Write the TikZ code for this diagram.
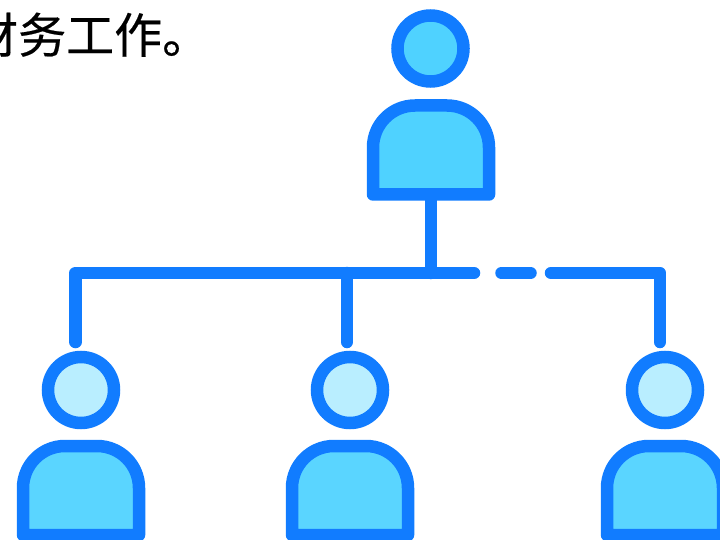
\documentclass[tikz,border=0pt]{standalone}
\usepackage{fontspec}
\newfontfamily\cjk[FakeBold=0.4]{Noto Sans CJK SC}
\definecolor{lineBlue}{HTML}{117CFF}
\definecolor{bossFill}{HTML}{4FD2FF}
\definecolor{staffBody}{HTML}{5AD5FF}
\definecolor{staffHead}{HTML}{B9EEFF}
\tikzset{
	personBody/.pic={
		\draw[line width=12.5pt, line join=round, draw=lineBlue, fill=#1]
			(-58,45) [rounded corners=42pt] -- (-58,-44) -- (58,-44) [sharp corners] -- (58,45) -- cycle;
		\coordinate (-south) at (0,45);
	}
}
\begin{document}
\begin{tikzpicture}[x=1pt, y=-1pt,
	personHead/.style={circle, line width=12.5pt, draw=lineBlue, minimum size=66pt, inner sep=0pt},
	link/.style={line width=12.5pt, draw=lineBlue, line cap=round, line join=round}]
	\useasboundingbox (0,0) rectangle (720,540);
	\clip (0,0) rectangle (720,540);
	\node[anchor=base west, inner sep=0pt, font=\cjk\fontsize{48pt}{48pt}\selectfont] (caption) at (-30,53) {财务工作。};
	% boss
	\node[personHead, fill=bossFill] (bossHead) at (430.5,48.5) {};
	\pic (bossBody) at (431,149.5) {personBody=bossFill};
	% staff
	\node[personHead, fill=staffHead] (leftHead) at (81,390) {};
	\pic (leftBody) at (81,490) {personBody=staffBody};
	\node[personHead, fill=staffHead] (midHead) at (350,390) {};
	\pic (midBody) at (350,490) {personBody=staffBody};
	\node[personHead, fill=staffHead] (rightHead) at (665,390) {};
	\pic (rightBody) at (665,490) {personBody=staffBody};
	% connectors
	\coordinate (busLeft) at (75.5,273);
	\coordinate (busMid) at (347,273);
	\coordinate (busRight) at (660,273);
	\coordinate (busEnd) at (474,273);
	\coordinate (dashStart) at (501.5,273);
	\coordinate (dashEnd) at (530.5,273);
	\coordinate (lastStart) at (551,273);
	\coordinate (leftDrop) at (75.5,342);
	\coordinate (midDrop) at (347,342);
	\coordinate (rightDrop) at (660,342);
	\draw[link] (bossBody-south) -- (bossBody-south |- busEnd);
	\draw[link] (leftDrop) -- (busLeft) -- (busEnd);
	\draw[link] (busMid) -- (midDrop);
	\draw[link] (dashStart) -- (dashEnd);
	\draw[link] (lastStart) -- (busRight) -- (rightDrop);
\end{tikzpicture}
\end{document}
